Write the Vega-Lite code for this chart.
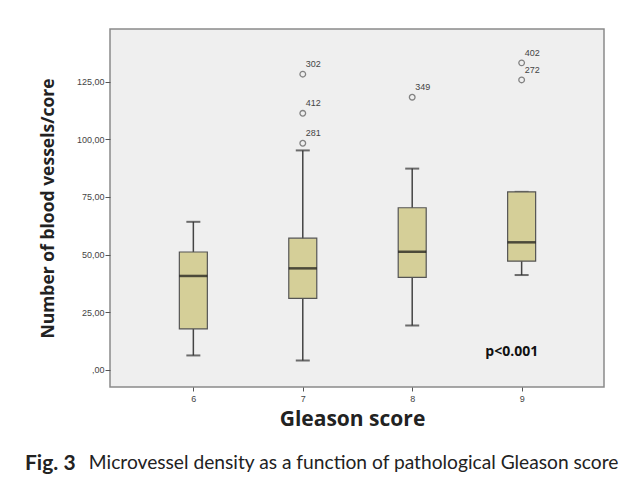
{
  "$schema": "https://vega.github.io/schema/vega-lite/v6.json",
  "width": 494,
  "height": 358,
  "autosize": {"type": "none"},
  "padding": {"left": 110, "top": 29, "right": 26, "bottom": 92},
  "background": "white",
  "config": {
    "view": {"fill": "#efefef", "stroke": "#8a8a8a", "strokeWidth": 1.5},
    "font": "Open Sans"
  },
  "title": {
    "text": "Fig. 3",
    "subtitle": "\u200b\u00a0\u00a0\u00a0\u00a0\u00a0\u00a0\u00a0\u00a0\u00a0\u00a0\u00a0\u00a0\u00a0Microvessel density as a function of pathological Gleason score",
    "orient": "bottom",
    "anchor": "start",
    "frame": "group",
    "dx": -85,
    "offset": 24,
    "font": "Lato",
    "fontSize": 21,
    "fontWeight": "bold",
    "color": "#222",
    "subtitleFont": "Lato",
    "subtitleFontSize": 19.2,
    "subtitleFontWeight": "normal",
    "subtitleColor": "#222",
    "subtitlePadding": -20
  },
  "datasets": {
    "boxes": [
      {"score": 6, "lower": 6.2, "q1": 17.7, "median": 40.7, "q3": 51.1, "upper": 64.2},
      {"score": 7, "lower": 4.0, "q1": 31.0, "median": 44.0, "q3": 57.1, "upper": 95.2},
      {"score": 8, "lower": 19.2, "q1": 40.1, "median": 51.2, "q3": 70.3, "upper": 87.3},
      {"score": 9, "lower": 41.1, "q1": 47.1, "median": 55.3, "q3": 77.2, "upper": 77.2}
    ],
    "outliers": [
      {"score": 7, "value": 128.3, "case": "302"},
      {"score": 7, "value": 111.3, "case": "412"},
      {"score": 7, "value": 98.3, "case": "281"},
      {"score": 8, "value": 118.3, "case": "349"},
      {"score": 9, "value": 133.2, "case": "402"},
      {"score": 9, "value": 125.8, "case": "272"}
    ],
    "note": [{"score": 8.91, "value": 7.8, "label": "p<0.001"}]
  },
  "encoding": {
    "x": {
      "field": "score",
      "type": "quantitative",
      "scale": {"domain": [5.284, 9.707], "nice": false, "zero": false},
      "axis": {
        "values": [6, 7, 8, 9],
        "title": "Gleason score",
        "grid": false,
        "domain": false,
        "tickSize": 4,
        "tickColor": "#555",
        "labelFont": "Liberation Sans",
        "labelFontSize": 9,
        "labelColor": "#444",
        "labelPadding": 3,
        "titleFont": "Open Sans",
        "titleFontSize": 21,
        "titleFontWeight": "bold",
        "titleColor": "#222",
        "titlePadding": 5,
        "titleX": 242
      }
    }
  },
  "layer": [
    {
      "data": {"name": "boxes"},
      "mark": {"type": "rule", "color": "#444", "strokeWidth": 1.5},
      "encoding": {
        "y": {
          "field": "lower",
          "type": "quantitative",
          "scale": {"domain": [-7.5, 147.9], "nice": false, "zero": false},
          "axis": {
            "values": [0, 25, 50, 75, 100, 125],
            "labelExpr": "datum.value == 0 ? ',00' : replace(format(datum.value, '.2f'), '.', ',')",
            "title": "Number of blood vessels/core",
            "grid": false,
            "domain": false,
            "tickSize": 5,
            "tickColor": "#555",
            "labelFont": "Liberation Sans",
            "labelFontSize": 9,
            "labelColor": "#444",
            "labelPadding": 1,
            "titleFont": "Open Sans",
            "titleFontSize": 17.5,
            "titleFontWeight": "bold",
            "titleColor": "#222",
            "titlePadding": 19
          }
        },
        "y2": {"field": "upper"}
      }
    },
    {
      "data": {"name": "boxes"},
      "mark": {"type": "tick", "orient": "horizontal", "size": 14, "thickness": 2, "color": "#333"},
      "encoding": {"y": {"field": "lower", "type": "quantitative"}}
    },
    {
      "data": {"name": "boxes"},
      "mark": {"type": "tick", "orient": "horizontal", "size": 14, "thickness": 2, "color": "#333"},
      "encoding": {"y": {"field": "upper", "type": "quantitative"}}
    },
    {
      "data": {"name": "boxes"},
      "mark": {"type": "bar", "width": 28, "fill": "#d5cf98", "stroke": "#555", "strokeWidth": 1.2},
      "encoding": {
        "y": {"field": "q1", "type": "quantitative"},
        "y2": {"field": "q3"}
      }
    },
    {
      "data": {"name": "boxes"},
      "mark": {"type": "tick", "orient": "horizontal", "size": 28, "thickness": 2.5, "color": "#111"},
      "encoding": {"y": {"field": "median", "type": "quantitative"}}
    },
    {
      "data": {"name": "outliers"},
      "mark": {"type": "point", "shape": "circle", "filled": false, "size": 32, "stroke": "#555", "strokeWidth": 1.3},
      "encoding": {"y": {"field": "value", "type": "quantitative"}}
    },
    {
      "data": {"name": "outliers"},
      "mark": {"type": "text", "align": "left", "baseline": "middle", "dx": 3, "dy": -10, "font": "Liberation Sans", "fontSize": 9, "color": "#444"},
      "encoding": {
        "y": {"field": "value", "type": "quantitative"},
        "text": {"field": "case"}
      }
    },
    {
      "data": {"name": "note"},
      "mark": {"type": "text", "align": "center", "baseline": "middle", "font": "Open Sans", "fontSize": 14, "fontWeight": "bold", "color": "#111"},
      "encoding": {
        "y": {"field": "value", "type": "quantitative"},
        "text": {"field": "label"}
      }
    }
  ]
}
